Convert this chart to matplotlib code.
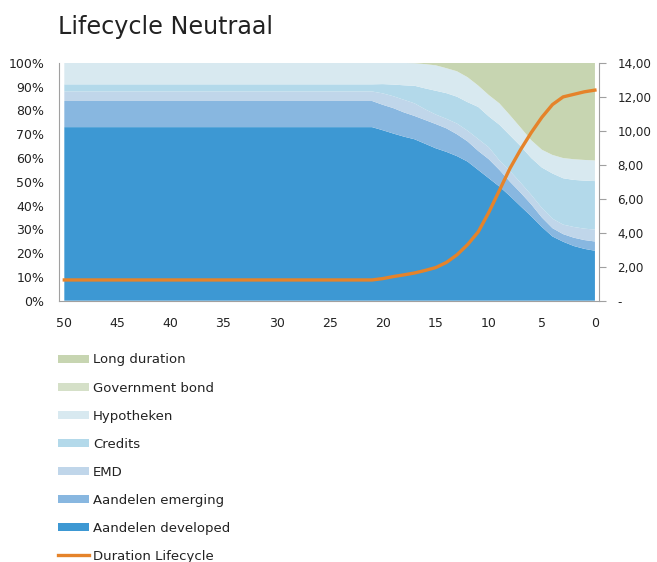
import matplotlib.pyplot as plt
import numpy as np

plt.rcParams['font.family'] = ['DejaVu Sans']

# jaren tot pensioen (50 -> 0)
years = np.arange(50, -1, -1)

# bovengrenzen (cumulatief, %) voor jaar 20..0; jaar 50..21 is vlak
top_dev = [71.7, 70.3, 69, 67.9, 66, 64.1, 62.6, 60.8, 58.5, 55, 51.5,
           48, 44, 39.7, 35.5, 31, 27, 24.8, 23, 21.8, 21]
top_em = [82.4, 81, 79.2, 77.7, 76, 74.3, 72.5, 70, 67, 63, 59.5,
          55, 50, 45.4, 40.5, 35, 30.5, 28, 26.5, 25.5, 24.9]
top_emd = [87.2, 86, 84.5, 83, 80.5, 78.3, 76.5, 74.5, 71.5, 68, 64.5,
           59, 54.5, 49.6, 44.5, 39, 34.5, 32, 31, 30.3, 29.9]
top_cred = [91.1, 90.9, 90.6, 90.4, 89.3, 88.3, 87.3, 85.8, 83.5, 81.5, 77.5,
            74, 69.5, 65, 60, 56, 53.5, 51.5, 50.8, 50.5, 50.3]
top_hyp = [100, 100, 100, 99.9, 99.5, 99, 97.8, 96.5, 94, 90.5, 86.5,
           83, 78, 72.8, 67.5, 63.5, 61.3, 60, 59.5, 59.2, 59]
duration_tail = [1.3, 1.42, 1.52, 1.63, 1.78, 1.95, 2.25, 2.7, 3.3, 4.05, 5.2,
                 6.5, 7.8, 8.9, 9.9, 10.8, 11.55, 12.0, 12.15, 12.3, 12.4]

flat = 30
c_dev = np.array([73] * flat + top_dev)
c_em = np.array([84] * flat + top_em)
c_emd = np.array([88] * flat + top_emd)
c_cred = np.array([91] * flat + top_cred)
c_hyp = np.array([100] * flat + top_hyp)
duration = np.array([1.22] * flat + duration_tail)

dev = c_dev
em = c_em - c_dev
emd = c_emd - c_em
cred = c_cred - c_emd
hyp = c_hyp - c_cred
gov = np.zeros_like(dev, dtype=float)
longdur = 100 - c_hyp

labels = ['Aandelen developed', 'Aandelen emerging', 'EMD', 'Credits',
          'Hypotheken', 'Government bond', 'Long duration']
colors = ['#3d98d3', '#88b7e0', '#c0d6ea', '#b3d9ea', '#d8e9f0', '#d5e0c8', '#c7d5b1']

fig = plt.figure(figsize=(6.57, 5.62), dpi=100)
ax = fig.add_axes([0.0903, 0.465, 0.8217, 0.423])
polys = ax.stackplot(years, dev, em, emd, cred, hyp, gov, longdur,
                     colors=colors, labels=labels, linewidth=0)
ax.set_xlim(50.47, -0.4)
ax.set_ylim(0, 100)
ax.set_xticks(range(50, -1, -5))
ax.set_yticks(range(0, 101, 10))
ax.set_yticklabels([f'{v}%' for v in range(0, 101, 10)])
ax.tick_params(axis='y', length=0, labelsize=9, colors='#222222', pad=11)
ax.tick_params(axis='x', length=0, labelsize=9, colors='#222222', pad=12)
for s in ['top', 'right']:
    ax.spines[s].set_visible(False)
for s in ['left', 'bottom']:
    ax.spines[s].set_color('#a0a0a0')

ax2 = ax.twinx()
line, = ax2.plot(years, duration, color='#e5832a', linewidth=2.4, label='Duration Lifecycle')
ax2.set_ylim(0, 14)
ax2.set_yticks(range(0, 15, 2))
ax2.set_yticklabels(['-'] + [f'{v},00' for v in range(2, 15, 2)])
ax2.tick_params(axis='y', length=5, labelsize=8.6, labelcolor='#222222', color='#a0a0a0', pad=8)
for s in ['top', 'left', 'bottom']:
    ax2.spines[s].set_visible(False)
ax2.spines['right'].set_color('#a0a0a0')

fig.text(0.088, 0.952, 'Lifecycle Neutraal', fontsize=17.2, color='#222222',
         va='center', ha='left')

handles = polys[::-1] + [line]
leg_labels = labels[::-1] + ['Duration Lifecycle']
fig.legend(handles, leg_labels, loc='upper left', bbox_to_anchor=(0.089, 0.371),
           frameon=False, fontsize=9.5, handlelength=2.3, handleheight=0.55,
           handletextpad=0.3, labelspacing=1.14, borderaxespad=0, borderpad=0,
           labelcolor='#222222')

fig.savefig('out.png', dpi=100)
